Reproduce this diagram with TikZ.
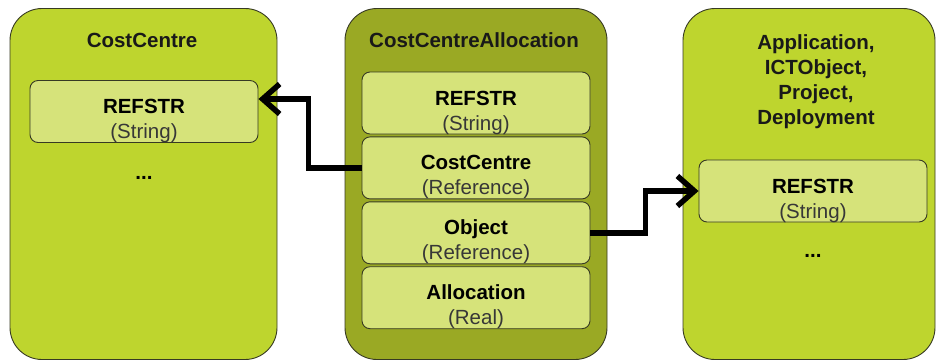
\documentclass[tikz,border=0pt]{standalone}
\usepackage{fontspec}
\setmainfont{Liberation Sans}
\usepackage{xcolor}
\usetikzlibrary{calc,positioning,arrows.meta}

\definecolor{limefill}{RGB}{190,213,46}
\definecolor{olivefill}{RGB}{154,169,36}
\definecolor{rowfill}{RGB}{214,227,122}
\definecolor{edgegray}{RGB}{55,58,35}
\definecolor{typegray}{RGB}{55,55,55}

\begin{document}
\begin{tikzpicture}[
        x=1pt, y=-1pt,
        font=\fontsize{20.5}{25}\selectfont,
        outer/.style={rectangle, rounded corners=32pt, draw=edgegray, line width=0.9pt, minimum height=351pt},
        entity/.style={outer, fill=limefill},
        linkentity/.style={outer, fill=olivefill},
        title/.style={align=center, text=black!90, font=\fontsize{20.5}{25}\selectfont\bfseries},
        row/.style={rectangle, rounded corners=8pt, draw=edgegray, line width=0.9pt, fill=rowfill, align=center,
            minimum width=228pt, minimum height=62pt, inner sep=0pt, text height=58pt, text depth=4pt},
        more/.style={font=\fontsize{20.5}{25}\selectfont\bfseries},
        link/.style={line width=5.5pt, -{Straight Barb[length=17pt,width=30pt]}}
    ]
        \useasboundingbox (0,0) rectangle (938,360);

        \node[entity, minimum width=267pt] (costcentre) at (143.5,184) {};
        \node[linkentity, minimum width=262pt] (allocation) at (476,184) {};
        \node[entity, minimum width=252pt] (object) at (809,184) {};

        \node[title] (ccTitle) at (142,40) {CostCentre};
        \node[title] (allocTitle) at (474,40) {CostCentreAllocation};
        \node[title] (objTitle) at (816,82) {Application,\\ICTObject,\\Project,\\Deployment};

        \newcommand{\field}[2]{\textbf{#1}\\{\color{typegray}(#2)}}

        \node[row] (ccRef) at (144,111.5) {\field{REFSTR}{String}};
        \node[more] (ccMore) at (144,178) {...};

        \node[row] (allocRef) at (476,103) {\field{REFSTR}{String}};
        \node[row, below=2pt of allocRef] (allocCC) {\field{CostCentre}{Reference}};
        \node[row, below=2pt of allocCC] (allocObj) {\field{Object}{Reference}};
        \node[row, below=2pt of allocObj] (allocValue) {\field{Allocation}{Real}};

        \node[row] (objRef) at (813,191) {\field{REFSTR}{String}};
        \node[more] (objMore) at (813,256) {...};

        \draw[link] (allocCC.west) -- ++(-53,0) |- ([yshift=12.5pt]ccRef.east);
        \draw[link] (allocObj.east) -- ++(55,0) |- (objRef.west);
    \end{tikzpicture}
\end{document}
